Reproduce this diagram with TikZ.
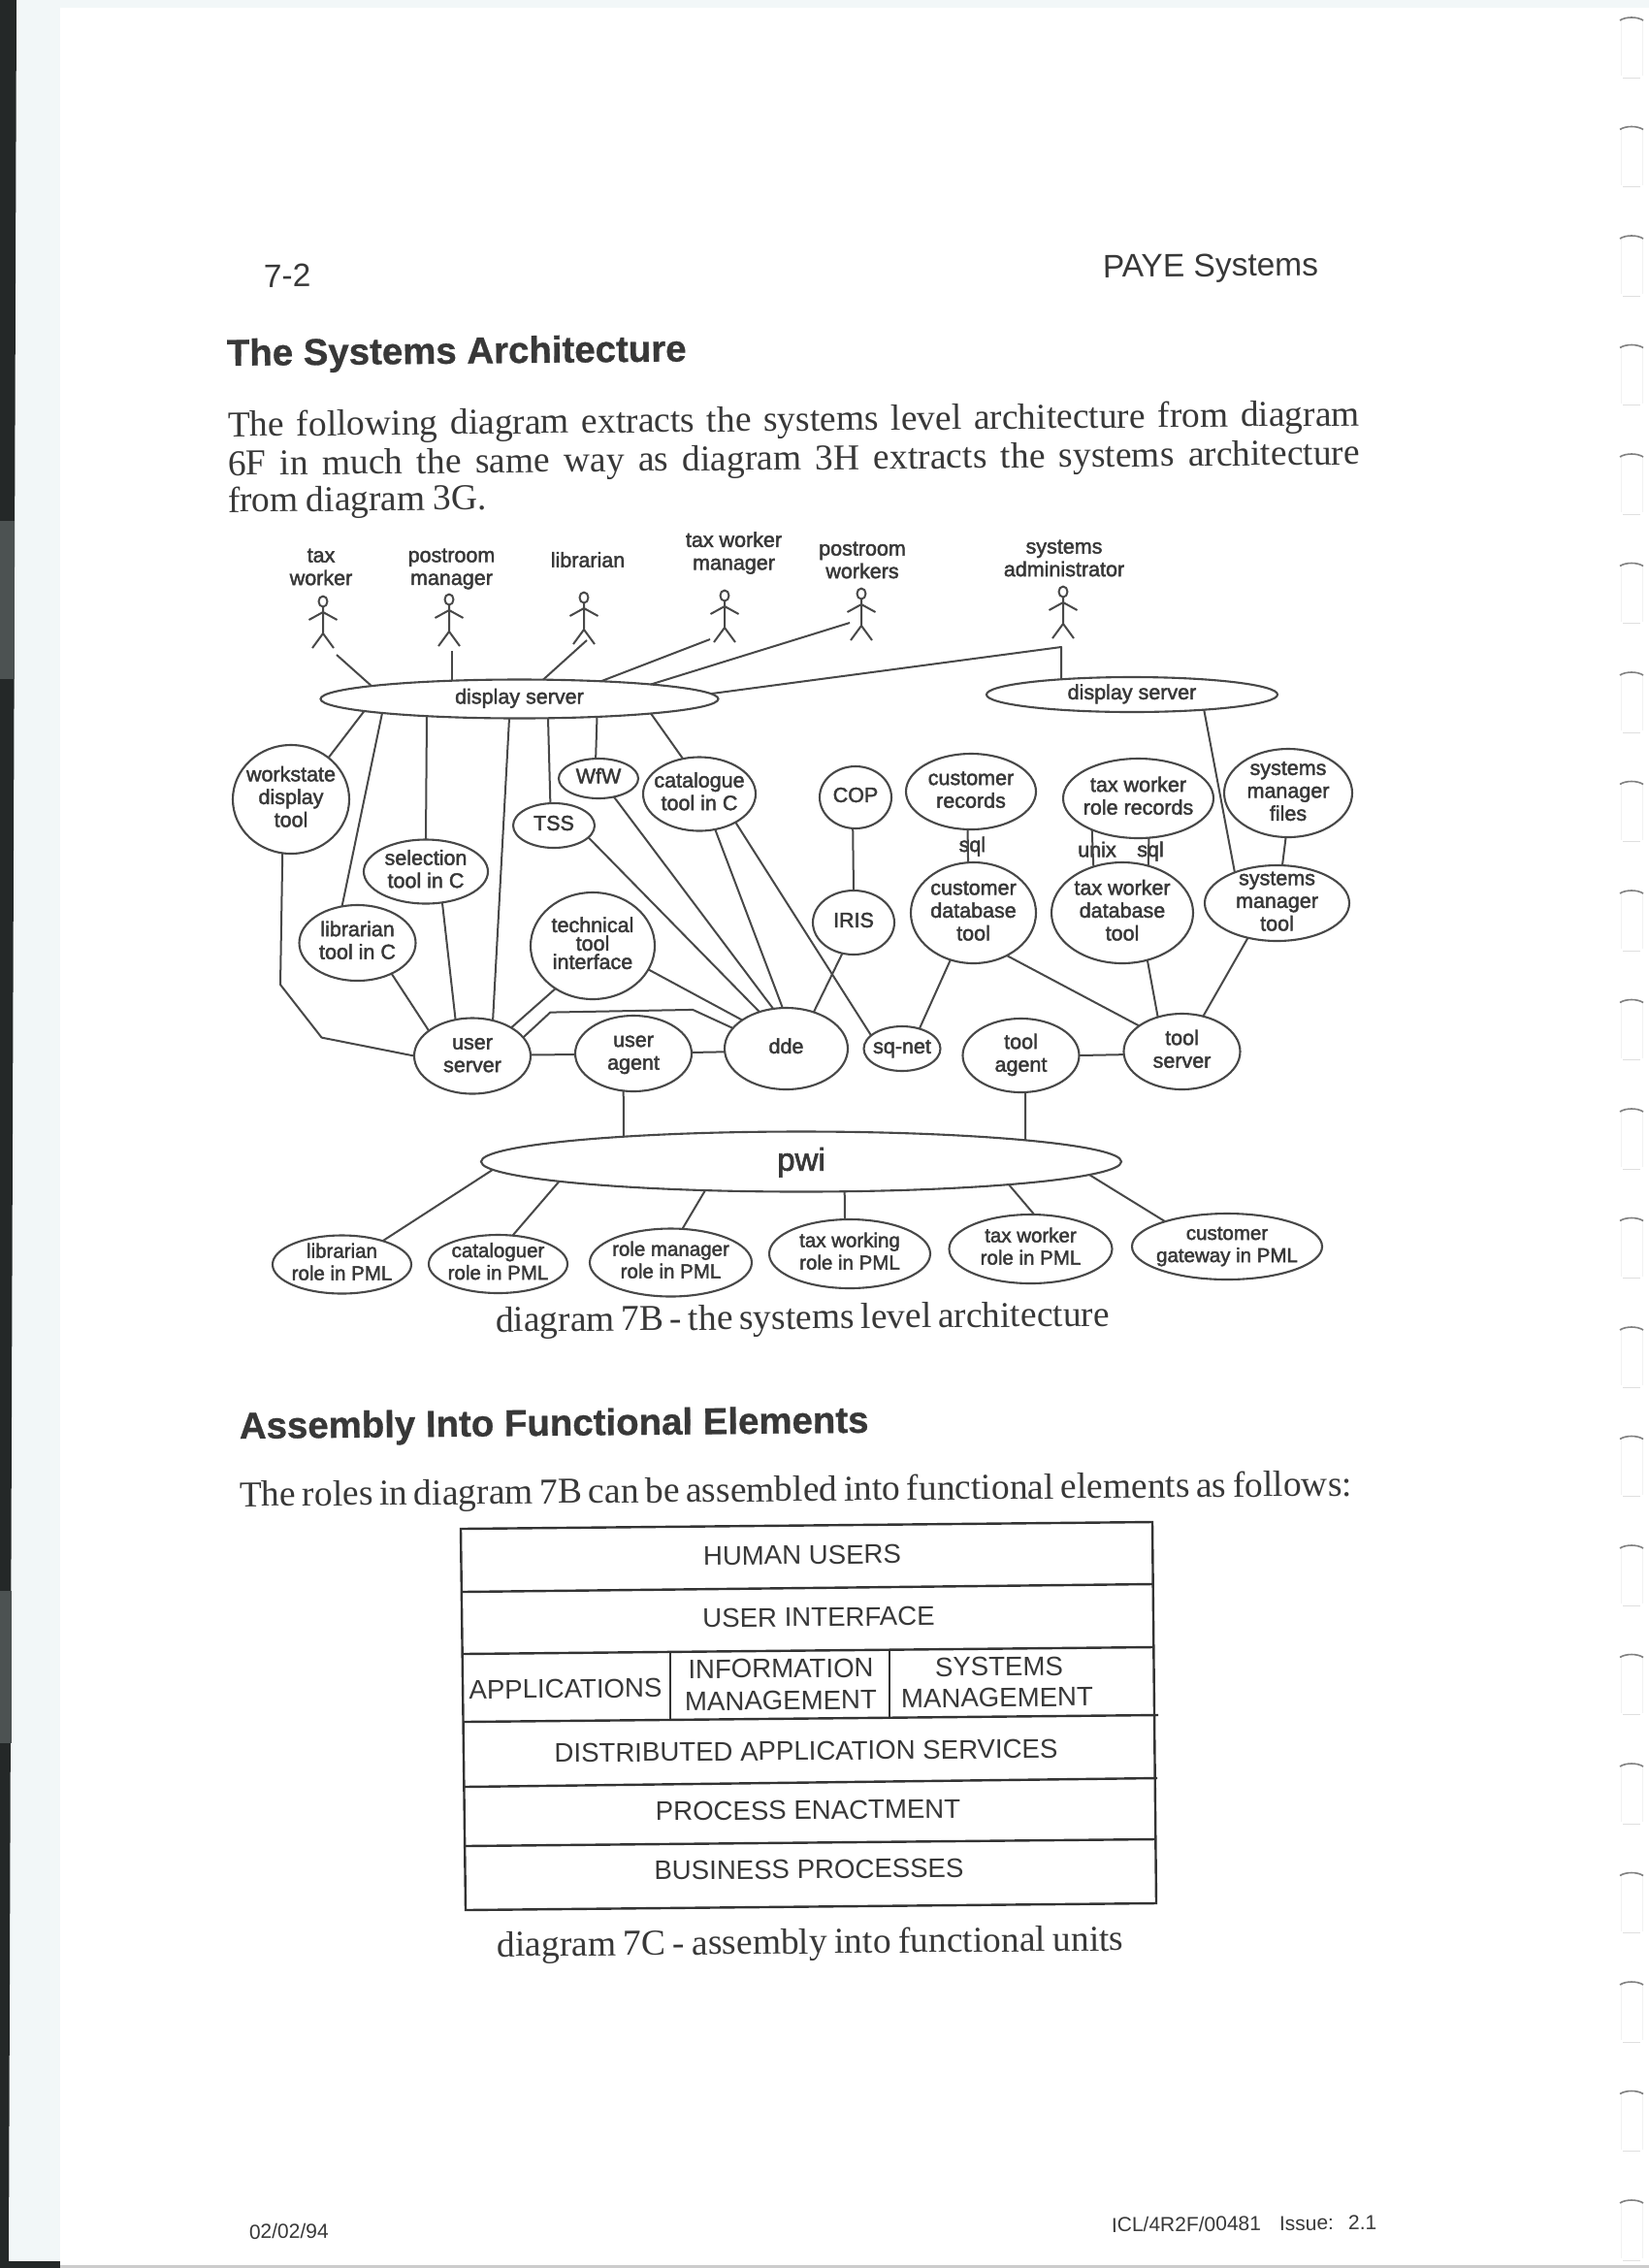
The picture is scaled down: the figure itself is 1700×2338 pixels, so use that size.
\documentclass[tikz,border=0pt]{standalone}
\usepackage{fontspec}
\usetikzlibrary{shapes.geometric,calc}
\setmainfont{Liberation Serif}
\newfontfamily\sansF{Liberation Sans}
\newfontfamily\diagF[FakeBold=2]{Liberation Sans}
\newfontfamily\headF[FakeBold=0.8]{Liberation Sans Bold}
\definecolor{ink}{HTML}{383838}
\definecolor{lineink}{HTML}{484848}
\definecolor{pale}{HTML}{F2F7F8}
\definecolor{scandark}{HTML}{242828}
\definecolor{scangray}{HTML}{4C5252}
\newcommand\lab[1]{\makebox[0pt]{\smash{\raisebox{-.25em}{\begin{tabular}[c]{@{}c@{}}#1\end{tabular}}}}}
% \el[options]{name}{x}{y}{rx}{ry}{text}
\newcommand\el[7][]{\node[ell,minimum width=2*#5 pt,minimum height=2*#6 pt,#1] (#2) at (#3,#4) {\lab{#7}};}
\tikzset{
  ell/.style={ellipse,draw=lineink,line width=2.1pt,inner sep=0pt,outer sep=0pt,text=ink,
    font=\diagF\fontsize{21.5}{23.5}\selectfont},
  rolefont/.style={font=\diagF\fontsize{20.5}{23}\selectfont},
  conn/.style={draw=lineink,line width=2pt,line join=round},
  actortext/.style={inner sep=0pt,align=center,text=ink,font=\diagF\fontsize{21.5}{23.5}\selectfont},
  tag/.style={inner sep=0pt,text=ink,font=\diagF\fontsize{21.5}{23.5}\selectfont},
  txt/.style={inner sep=0pt,outer sep=0pt,anchor=base west,text=ink,rotate=0.55},
  bodytext/.style={txt,font=\fontsize{37.5}{40}\selectfont},
  heading/.style={txt,font=\headF\fontsize{38.4}{44}\selectfont},
  pagesans/.style={txt,font=\sansF\fontsize{33.5}{38}\selectfont},
  foot/.style={txt,font=\sansF\fontsize{21}{24}\selectfont},
  boxtext/.style={inner sep=0pt,text=ink,rotate=0.5,font=\sansF\fontsize{27.6}{32}\selectfont},
  boxline/.style={draw=black!80,line width=2.4pt,line join=miter},
  actor/.pic={
    \draw[conn] (0,0) ellipse [x radius=4.5,y radius=5.5];
    \draw[conn] (0,5.5) -- (0,33) (-14.5,19) -- (0,11) -- (14.5,19)
      (-11,48) -- (0,33) -- (11,48);
  },
  tabtop/.pic={
    \draw[draw=gray!10,line width=1pt] (-11,3) -- (-11,60) (11,3) -- (11,60);
    \draw[draw=gray!25,line width=1pt] (-9,62) -- (9,62);
    \draw[draw=gray,line width=1.6pt] (-12,3) .. controls (-6,-1) and (6,-1) .. (12,3);
  }
}
\begin{document}
\begin{tikzpicture}[x=1pt,y=-1pt]
\useasboundingbox (0,0) rectangle (1700,2338);
\fill[white] (0,0) rectangle (1700,2338);
% scanner edges
\fill[pale] (10,0) -- (62,0) -- (62,2338) -- (10,2338) -- cycle;
\fill[pale] (17,0) rectangle (1700,8);
\fill[scandark] (0,0) -- (17,0) -- (9,2338) -- (0,2338) -- cycle;
\fill[scangray] (0,537) -- (15,537) -- (15,700) -- (0,700) -- cycle;
\fill[scangray] (0,1640) -- (12,1640) -- (12,1797) -- (0,1797) -- cycle;
\fill[scandark] (0,2331) rectangle (62,2338);
\fill[black!20] (62,2335) rectangle (1700,2338);
% binder tabs
\foreach \i in {0,...,20} { \pic at (1682,18+112.5*\i) {tabtop}; }

% page texts
\node[pagesans] (pgnum) at (272,296) {7-2};
\node[pagesans] (pgtitle) at (1137,286) {PAYE Systems};
\node[heading] (h1) at (234,377) {The Systems Architecture};
\node[bodytext] (l1) at (235,450) {\makebox[1167pt][s]{The following diagram extracts the systems level architecture from diagram}};
\node[bodytext] (l2) at (235,490) {\makebox[1167pt][s]{6F in much the same way as diagram 3H extracts the systems architecture}};
\node[bodytext] (l3) at (235,528) {\makebox[267pt][s]{from diagram 3G.}};
\node[bodytext] (cap7b) at (511,1373) {\makebox[633pt][s]{diagram 7B - the systems level architecture}};
\node[heading] (h2) at (247,1483) {Assembly Into Functional Elements};
\node[bodytext] (l4) at (247,1553) {\makebox[1147pt][s]{The roles in diagram 7B can be assembled into functional elements as follows:}};
\node[bodytext] (cap7c) at (512.5,2017) {\makebox[646pt][s]{diagram 7C - assembly into functional units}};
\node[foot] (fdate) at (257,2308) {02/02/94};
\node[foot] (fref) at (1146,2301) {ICL/4R2F/00481\hspace{19pt}Issue:\hspace{15pt}2.1};

% actors
\pic (actA) at (333,620) {actor};
\pic (actB) at (463,618) {actor};
\pic (actC) at (602,616) {actor};
\pic (actD) at (747,614) {actor};
\pic (actE) at (888,612) {actor};
\pic (actF) at (1096,610) {actor};
\node[actortext] (tA) at (331,584.5) {tax\\worker};
\node[actortext] (tB) at (465.5,586.5) {postroom\\manager};
\node[actortext] (tC) at (606,577) {librarian};
\node[actortext] (tD) at (756.5,570) {tax worker\\manager};
\node[actortext] (tE) at (889,577.5) {postroom\\workers};
\node[actortext] (tF) at (1097,575.5) {systems\\administrator};
\coordinate (fA) at (347,675);
\coordinate (fB) at (465.5,671);
\coordinate (fC) at (605,660);
\coordinate (fD) at (732,659);
\coordinate (fE) at (876,642);
\coordinate (cF) at (1094,667);
\coordinate (wa) at (289,1015);
\coordinate (wb) at (331.6,1069.6);
\coordinate (ua1) at (567.3,1043.6);
\coordinate (ua2) at (714.2,1040.9);

% nodes
\el{ds1}{535.5}{720.5}{205}{20}{display server}
\el{ds2}{1167}{716}{150}{18}{display server}
\el{ws}{300}{824}{60}{56}{workstate\\display\\tool}
\el{sel}{439}{898.5}{64}{33}{selection\\tool in C}
\el{lt}{368.5}{972}{60}{39}{librarian\\tool in C}
\el{tech}{611}{975}{64}{55}{technical\\[-4.5pt]tool\\[-4.5pt]interface}
\el{tss}{571}{851}{42}{23}{TSS}
\el{wfw}{617}{802.5}{41}{20.5}{WfW}
\el{cat}{721}{818.5}{58}{38}{catalogue\\tool in C}
\el{cop}{882}{822}{37}{32}{COP}
\el{iris}{880}{951}{42}{33}{IRIS}
\el{us}{487}{1088.5}{60}{39}{user\\server}
\el{ua}{653}{1086}{60}{39}{user\\agent}
\el{dde}{810.5}{1081}{63.5}{42}{dde}
\el{sq}{930}{1081}{39.5}{23}{sq-net}
\el{ta}{1052.5}{1088}{60}{38}{tool\\agent}
\el{ts}{1218.5}{1084}{60}{39}{tool\\server}
\el{cdb}{1003.5}{941}{64.5}{52}{customer\\database\\tool}
\el{txdb}{1157}{941}{73}{52}{tax worker\\database\\tool}
\el{cr}{1001}{816}{67}{39}{customer\\records}
\el{trr}{1173.5}{823}{77.5}{41}{tax worker\\role records}
\el{smf}{1328}{817.5}{66}{45.5}{systems\\manager\\files}
\el{smt}{1316.5}{931}{74.5}{39}{systems\\manager\\tool}
\el[font=\diagF\fontsize{33}{36}\selectfont]{pwi}{826}{1197.5}{330}{31}{pwi}
\el[rolefont]{rl}{352.5}{1303.5}{71.5}{30}{librarian\\role in PML}
\el[rolefont]{rc}{513.5}{1303}{71.5}{30}{cataloguer\\role in PML}
\el[rolefont]{rm}{691.5}{1301.5}{83.5}{35}{role manager\\role in PML}
\el[rolefont]{rw}{876}{1292.5}{83}{35.5}{tax working\\role in PML}
\el[rolefont]{rt}{1062.5}{1287.5}{84}{35.5}{tax worker\\role in PML}
\el[rolefont]{rg}{1265}{1285}{98}{34}{customer\\gateway in PML}
\node[tag] (sql1) at (1002.4,872.5) {sql};
\node[tag] (unix) at (1131,875.6) {unix};
\node[tag] (sql2) at (1186,877.5) {sql};

% connectors
\draw[conn] (fA) -- ($(ds1)+(-152.5,-13.4)$);
\draw[conn] (fB) -- ($(ds1)+(-70,-18.8)$);
\draw[conn] (fC) -- ($(ds1)+(24.5,-19.9)$);
\draw[conn] (fD) -- ($(ds1)+(84,-18.2)$);
\draw[conn] (fE) -- ($(ds1)+(135.5,-15)$);
\draw[conn] ($(ds1)+(197.5,-5.4)$) -- (cF) -- ($(ds2)+(-73,-15.7)$);
\draw[conn] ($(ds1)+(-160,12.5)$) -- (ws.48.5);
\draw[conn] ($(ds1)+(-141.5,14.5)$) -- (lt.113);
\draw[conn] ($(ds1)+(-95.5,17.7)$) -- (sel.90);
\draw[conn] ($(ds1)+(-10.5,20)$) -- (us.60);
\draw[conn] ($(ds1)+(29.5,19.8)$) -- (tss.99);
\draw[conn] ($(ds1)+(80,18.4)$) -- (wfw.98);
\draw[conn] ($(ds1)+(135.5,15)$) -- (cat.115);
\draw[conn] (ws.261) -- (wa) -- (wb) -- (us.180);
\draw[conn] (lt.-42.6) -- (us.150.8);
\draw[conn] (sel.-62.8) -- (us.115.3);
\draw[conn] (tech.229.5) -- (us.36.4);
\draw[conn] (us.20.2) -- (ua1) -- (ua2) -- (dde.159);
\draw[conn] (us.1.4) -- (ua.181);
\draw[conn] (ua.1) -- (dde.183.6);
\draw[conn] (tech.-23.5) -- (dde.147);
\draw[conn] (tss.-19) -- (dde.126.4);
\draw[conn] (wfw.-50) -- (dde.108);
\draw[conn] (cat.-66.5) -- (dde.95);
\draw[conn] (cat.-38) -- (sq.157.7);
\draw[conn] (cop.-95) -- (iris.90);
\draw[conn] (iris.-110) -- (dde.53);
\draw[conn] (cdb.244.8) -- (sq.49.4);
\draw[conn] (cdb.-52.1) -- (ts.149);
\draw[conn] (txdb.-62.3) -- (ts.125.7);
\draw[conn] (smt.230.8) -- (ts.59);
\draw[conn] (ta.0) -- (ts.183.8);
\draw[conn] (cr.265) -- (cdb.96.6);
\draw[conn] (trr.214.8) -- (txdb.122);
\draw[conn] (trr.-75) -- (txdb.61);
\draw[conn] (smf.267) -- (smt.82.7);
\draw[conn] ($(ds2)+(74.2,15.6)$) -- (smt.144);
\draw[conn] (ua.255.6) -- ($(pwi)+(-183,-25.8)$);
\draw[conn] (ta.-83) -- ($(pwi)+(231,-22.1)$);
\draw[conn] ($(pwi)+(-318,8.3)$) -- (rl.30);
\draw[conn] ($(pwi)+(-249.5,20.3)$) -- (rc.63.5);
\draw[conn] ($(pwi)+(-99,29.6)$) -- (rm.71);
\draw[conn] ($(pwi)+(44.7,30.7)$) -- (rw.98);
\draw[conn] ($(pwi)+(214,23.6)$) -- (rt.84);
\draw[conn] ($(pwi)+(297,13.5)$) -- (rg.158);

% layered box
\coordinate (bTL) at (475,1576);   \coordinate (bTR) at (1188,1569);
\coordinate (bBL) at (480,1969);   \coordinate (bBR) at (1192,1962);
\draw[boxline] (bTL) -- (bTR) -- (bBR) -- (bBL) -- cycle;
\draw[boxline] (476,1641) -- (1188,1633);
\draw[boxline] (477,1705) -- (1189,1698);
\draw[boxline] (478,1775) -- (1194,1768);
\draw[boxline] (478,1842) -- (1193,1833);
\draw[boxline] (479,1903) -- (1191,1896);
\draw[boxline,line width=1.8pt] (691,1703) -- (691,1773);
\draw[boxline,line width=1.8pt] (917,1701) -- (917,1770);
\node[boxtext] (b1) at (827,1603) {HUMAN USERS};
\node[boxtext] (b2) at (844,1667) {USER INTERFACE};
\node[boxtext] (b3a) at (583,1741) {APPLICATIONS};
\node[boxtext] (b3b) at (805,1720) {INFORMATION};
\node[boxtext] (b3c) at (805,1753) {MANAGEMENT};
\node[boxtext] (b3d) at (1030,1718) {SYSTEMS};
\node[boxtext] (b3e) at (1028,1750) {MANAGEMENT};
\node[boxtext] (b4) at (831,1805) {DISTRIBUTED APPLICATION SERVICES};
\node[boxtext] (b5) at (833,1866) {PROCESS ENACTMENT};
\node[boxtext] (b6) at (834,1927) {BUSINESS PROCESSES};
\end{tikzpicture}
\end{document}
